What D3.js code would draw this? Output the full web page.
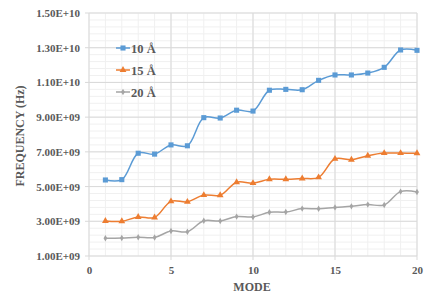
<!DOCTYPE html>
<html>
<head>
<meta charset="utf-8">
<script src="https://cdn.jsdelivr.net/npm/d3@7"></script>
<style>
	body { margin: 0; background: #fff; }
	svg text { font-family: "Liberation Serif", "Times New Roman", serif; font-weight: bold; fill: #595959; }
</style>
</head>
<body>
<div class="chart"></div>
<script>
	var modes = d3.range(1, 21);
	var freq10 = [5.38e9, 5.4e9, 6.92e9, 6.87e9, 7.4e9, 7.35e9, 8.97e9, 8.95e9, 9.4e9, 9.35e9,
		10.55e9, 10.6e9, 10.58e9, 11.12e9, 11.43e9, 11.43e9, 11.54e9, 11.87e9, 12.87e9, 12.85e9];
	var freq15 = [3.02e9, 3.0e9, 3.25e9, 3.22e9, 4.15e9, 4.12e9, 4.51e9, 4.5e9, 5.25e9, 5.2e9,
		5.42e9, 5.42e9, 5.47e9, 5.53e9, 6.6e9, 6.55e9, 6.78e9, 6.93e9, 6.93e9, 6.92e9];
	var freq20 = [2.02e9, 2.04e9, 2.08e9, 2.07e9, 2.44e9, 2.4e9, 3.03e9, 3.02e9, 3.27e9, 3.25e9,
		3.52e9, 3.53e9, 3.73e9, 3.72e9, 3.8e9, 3.86e9, 3.96e9, 3.94e9, 4.71e9, 4.69e9];
	var seriesNames = ['10 Å', '15 Å', '20 Å'];
	var yTicks = [1e9, 3e9, 5e9, 7e9, 9e9, 1.1e10, 1.3e10, 1.5e10];
	var xTicks = [0, 5, 10, 15, 20];

	var width = 433, height = 302;
	var svg = d3.select('.chart').append('svg')
		.attr('width', width)
		.attr('height', height);

	var x = d3.scaleLinear().domain([0, 20]).range([89, 417]);
	var y = d3.scaleLinear().domain([1e9, 1.5e10]).range([256, 13]);

	// minor grid
	var grid = svg.append('g').attr('class', 'grid');
	grid.selectAll('line.minor-x')
		.data(d3.range(0, 21))
		.enter().append('line')
		.attr('x1', function(d) { return x(d); })
		.attr('x2', function(d) { return x(d); })
		.attr('y1', y(1.5e10))
		.attr('y2', y(1e9))
		.attr('stroke', '#f0f0f0');
	grid.selectAll('line.minor-y')
		.data(d3.range(0, 36).map(function(i) { return 1e9 + i * 4e8; }))
		.enter().append('line')
		.attr('x1', x(0))
		.attr('x2', x(20))
		.attr('y1', function(d) { return y(d); })
		.attr('y2', function(d) { return y(d); })
		.attr('stroke', '#f0f0f0');

	// major grid, with outside tick marks
	grid.selectAll('line.major-x')
		.data(xTicks)
		.enter().append('line')
		.attr('x1', function(d) { return x(d); })
		.attr('x2', function(d) { return x(d); })
		.attr('y1', y(1.5e10))
		.attr('y2', y(1e9) + 4)
		.attr('stroke', '#d9d9d9');
	grid.selectAll('line.major-y')
		.data(yTicks)
		.enter().append('line')
		.attr('x1', x(0) - 4)
		.attr('x2', x(20))
		.attr('y1', function(d) { return y(d); })
		.attr('y2', function(d) { return y(d); })
		.attr('stroke', '#d9d9d9');

	// axes labels
	var yAxis = d3.axisLeft(y).tickValues(yTicks).tickSize(0).tickPadding(9)
		.tickFormat(function(d) {
			var e = Math.floor(Math.log10(d));
			var m = (d / Math.pow(10, e)).toFixed(2);
			return m + 'E+' + (e < 10 ? '0' + e : e);
		});
	var gy = svg.append('g').attr('transform', 'translate(' + x(0) + ',0)').call(yAxis);
	gy.select('.domain').remove();
	gy.selectAll('text').attr('font-size', 11).style('font-family', null).attr('font-family', null);

	var xAxis = d3.axisBottom(x).tickValues(xTicks).tickSize(0).tickPadding(10);
	var gx = svg.append('g').attr('transform', 'translate(0,' + y(1e9) + ')').call(xAxis);
	gx.select('.domain').remove();
	gx.selectAll('text').attr('font-size', 11);
	svg.selectAll('.tick text').attr('fill', '#595959');

	svg.append('text')
		.attr('x', 252)
		.attr('y', 291)
		.attr('text-anchor', 'middle')
		.attr('font-size', 12)
		.text('MODE');
	svg.append('text')
		.attr('transform', 'translate(24,136) rotate(-90)')
		.attr('text-anchor', 'middle')
		.attr('font-size', 12)
		.text('FREQUENCY (Hz)');

	var series = [
		{ name: seriesNames[0], values: freq10, color: '#5b9bd5', symbol: d3.symbolSquare, size: 26 },
		{ name: seriesNames[1], values: freq15, color: '#ed7d31', symbol: d3.symbolTriangle, size: 20 },
		{ name: seriesNames[2], values: freq20, color: '#a5a5a5', symbol: d3.symbolDiamond, size: 12 }
	];

	var line = d3.line()
		.x(function(d, i) { return x(modes[i]); })
		.y(function(d) { return y(d); })
		.curve(d3.curveCatmullRom.alpha(0.5));

	series.forEach(function(s) {
		var g = svg.append('g').attr('class', 'series');
		g.append('path')
			.attr('d', line(s.values))
			.attr('fill', 'none')
			.attr('stroke', s.color)
			.attr('stroke-width', 1.5);
		g.selectAll('path.marker')
			.data(s.values)
			.enter().append('path')
			.attr('class', 'marker')
			.attr('transform', function(d, i) { return 'translate(' + x(modes[i]) + ',' + y(d) + ')'; })
			.attr('d', d3.symbol().type(s.symbol).size(s.size))
			.attr('fill', s.color);
	});

	// legend
	var legend = svg.append('g').attr('class', 'legend');
	series.forEach(function(s, i) {
		var ly = 48 + i * 22;
		legend.append('line')
			.attr('x1', 116).attr('x2', 130)
			.attr('y1', ly).attr('y2', ly)
			.attr('stroke', s.color)
			.attr('stroke-width', 1.5);
		legend.append('path')
			.attr('transform', 'translate(123,' + ly + ')')
			.attr('d', d3.symbol().type(s.symbol).size(s.size))
			.attr('fill', s.color);
		legend.append('text')
			.attr('x', 131)
			.attr('y', ly + 4.5)
			.attr('font-size', 12.5)
			.text(s.name);
	});
</script>
</body>
</html>
